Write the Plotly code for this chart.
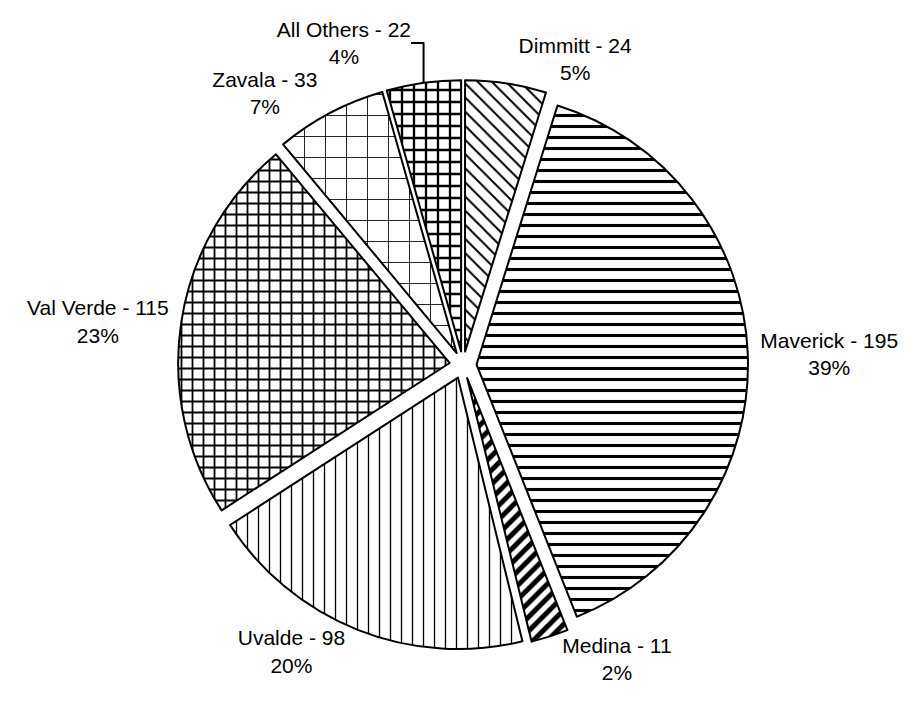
import plotly.graph_objects as go

# County breakdown
counties = ["Dimmitt", "Maverick", "Medina", "Uvalde", "Val Verde", "Zavala", "All Others"]
counts = [24, 195, 11, 98, 115, 33, 22]

# Fill pattern for each county slice
pattern_shapes = ["\\", "-", "/", "|", "+", "+", "+"]
pattern_sizes = [10, 11, 10, 11, 11, 21, 12]
pattern_solidity = [0.2, 0.28, 0.5, 0.12, 0.3, 0.08, 0.35]

label_font = dict(family="Liberation Sans, Arial, sans-serif", size=21, color="black")

fig = go.Figure(
    go.Pie(
        labels=counties,
        values=counts,
        sort=False,
        direction="clockwise",
        rotation=0,
        pull=0.05,
        marker=dict(
            colors=["white"] * len(counties),
            line=dict(color="black", width=2),
            pattern=dict(
                shape=pattern_shapes,
                size=pattern_sizes,
                solidity=pattern_solidity,
                fgcolor="black",
                bgcolor="white",
                fillmode="replace",
            ),
        ),
        texttemplate="%{label} - %{value}<br>%{percent:.0%}",
        textposition="outside",
        textfont=label_font,
        outsidetextfont=label_font,
        domain=dict(x=[0.1958, 0.8229], y=[0.0806, 0.8868]),
        automargin=False,
        showlegend=False,
        hoverinfo="skip",
    )
)

fig.update_layout(
    width=909,
    height=707,
    margin=dict(l=0, r=0, t=0, b=0),
    paper_bgcolor="white",
    plot_bgcolor="white",
    showlegend=False,
)

fig.write_html("out.html")
